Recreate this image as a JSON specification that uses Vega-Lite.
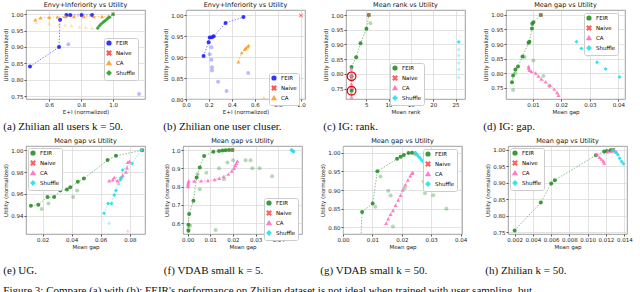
{
"$schema":"https://vega.github.io/schema/vega-lite/v6.json",
"padding":{"left":3,"top":1,"right":0,"bottom":0},
"config":{
 "title":{"font":"DejaVu Sans","fontSize":6.5,"fontWeight":"normal","offset":1.5,"color":"#111"},
 "axis":{"labelFontSize":5.5,"titleFontSize":5.5,"titleFontWeight":"normal","labelFont":"DejaVu Sans","titleFont":"DejaVu Sans","tickSize":2,"labelPadding":1,"titlePadding":2,"gridColor":"#d0d0d0","gridWidth":0.6,"domain":false,"tickColor":"#555","labelColor":"#222","titleColor":"#222","labelOverlap":false,"labelFlush":false},
 "view":{"stroke":"#888","strokeWidth":0.8},
 "legend":{"labelFontSize":5.5,"labelFont":"DejaVu Sans","symbolSize":14,"padding":2,"rowPadding":0,"strokeColor":"#ccc","fillColor":"white","cornerRadius":2,"symbolOpacity":0.9,"labelLimit":60,"orient":"none"}
},
"spacing":4,
"resolve":{"scale":{"color":"independent","shape":"independent","opacity":"independent","x":"independent","y":"independent"},"legend":{"color":"independent","shape":"independent"},"axis":{"x":"independent","y":"independent"}},
"title":{"text":"Figure 3: Compare (a) with (b): FEIR's performance on Zhilian dataset is not ideal when trained with user sampling, but","orient":"bottom","anchor":"start","font":"Liberation Serif","fontSize":11,"fontWeight":"normal","offset":9},
"vconcat":[
{"hconcat":[
 {"vconcat":[{
  "width":119,"height":89,"title":"Envy+Inferiority vs Utility",
  "data":{"values":[
   {"s":"FEIR","f":"main","x":0.48,"y":0.84},{"s":"FEIR","f":"main","x":0.662,"y":0.9},{"s":"FEIR","f":"main","x":0.668,"y":0.983},{"s":"FEIR","f":"main","x":0.708,"y":0.998},{"s":"FEIR","f":"main","x":0.732,"y":0.998},{"s":"FEIR","f":"main","x":0.803,"y":0.998},{"s":"FEIR","f":"main","x":0.869,"y":0.998},
   {"s":"FEIR","f":"other","x":0.72,"y":0.908},{"s":"FEIR","f":"other","x":1.163,"y":0.756},
   {"s":"Naive","f":"main","x":1.0,"y":1.0},
   {"s":"CA","f":"main","x":0.513,"y":0.983},{"s":"CA","f":"main","x":0.546,"y":0.989},{"s":"CA","f":"main","x":0.6,"y":0.991},{"s":"CA","f":"main","x":0.652,"y":0.992},{"s":"CA","f":"main","x":0.703,"y":0.993},{"s":"CA","f":"main","x":0.755,"y":0.993},{"s":"CA","f":"main","x":0.817,"y":0.993},{"s":"CA","f":"main","x":0.879,"y":0.993},{"s":"CA","f":"main","x":0.931,"y":0.993},{"s":"CA","f":"main","x":0.97,"y":0.994},
   {"s":"CA","f":"other","x":0.52,"y":0.975},{"s":"CA","f":"other","x":0.6,"y":0.972},{"s":"CA","f":"other","x":0.66,"y":0.968},{"s":"CA","f":"other","x":0.7,"y":0.967},{"s":"CA","f":"other","x":0.74,"y":0.965},{"s":"CA","f":"other","x":0.79,"y":0.962},{"s":"CA","f":"other","x":0.83,"y":0.96},{"s":"CA","f":"other","x":0.87,"y":0.958},{"s":"CA","f":"other","x":0.9,"y":0.957},
   {"s":"Shuffle","f":"main","x":0.904,"y":0.958},{"s":"Shuffle","f":"main","x":0.915,"y":0.965},{"s":"Shuffle","f":"main","x":0.927,"y":0.971},{"s":"Shuffle","f":"main","x":0.94,"y":0.976},{"s":"Shuffle","f":"main","x":0.952,"y":0.981},{"s":"Shuffle","f":"main","x":0.965,"y":0.986},{"s":"Shuffle","f":"main","x":0.979,"y":0.991},{"s":"Shuffle","f":"main","x":1.0,"y":1.0}
  ]},
  "encoding":{
   "x":{"field":"x","type":"quantitative","scale":{"domain":[0.455,1.2],"nice":false,"zero":false},"axis":{"title":"E+I (normalized)","values":[0.6,0.8,1.0],"format":".1f"}},
   "y":{"field":"y","type":"quantitative","scale":{"domain":[0.741,1.013],"nice":false,"zero":false},"axis":{"title":"Utility (normalized)","values":[0.75,0.8,0.85,0.9,0.95,1.0],"format":".2f"}},
   "color":{"field":"s","type":"nominal","title":null,"scale":{"domain":["FEIR","Naive","CA","Shuffle"],"range":["#1f1fff","#ff4040","#ffa020","#22a02a"]},"legend":{"orient":"none","legendX":78,"legendY":28}}
  },
  "layer":[
   {"transform":[{"filter":"datum.f=='main' && datum.s!='Naive'"}],
    "mark":{"type":"line","strokeDash":[1.5,1.5],"strokeWidth":0.8,"opacity":0.7,"clip":true},
    "encoding":{"detail":{"field":"s"},"order":{"field":"y","type":"quantitative"}}},
   {"mark":{"type":"point","filled":true,"size":16,"clip":true},
    "encoding":{
     "shape":{"field":"s","type":"nominal","title":null,"scale":{"domain":["FEIR","Naive","CA","Shuffle"],"range":["circle","M-1,-0.75L-0.75,-1L0,-0.25L0.75,-1L1,-0.75L0.25,0L1,0.75L0.75,1L0,0.25L-0.75,1L-1,0.75L-0.25,0Z","triangle-up","diamond"]}},
     "opacity":{"field":"f","type":"nominal","scale":{"domain":["main","other"],"range":[0.9,0.3]},"legend":null}}}
  ]}],
  "title":{"text":"(a) Zhilian all users k = 50.","orient":"bottom","font":"Liberation Serif","fontSize":11,"fontWeight":"normal","offset":6}},
 {"vconcat":[{
  "width":119,"height":89,"title":"Envy+Inferiority vs Utility",
  "data":{"values":[
   {"s":"FEIR","f":"main","x":0.153,"y":0.903},{"s":"FEIR","f":"main","x":0.197,"y":0.936},{"s":"FEIR","f":"main","x":0.206,"y":0.947},{"s":"FEIR","f":"main","x":0.226,"y":0.948},{"s":"FEIR","f":"main","x":0.241,"y":0.95},{"s":"FEIR","f":"main","x":0.344,"y":0.982},{"s":"FEIR","f":"main","x":0.5,"y":0.996},
   {"s":"FEIR","f":"other","x":0.206,"y":0.907},{"s":"FEIR","f":"other","x":0.221,"y":0.924},{"s":"FEIR","f":"other","x":0.221,"y":0.894},{"s":"FEIR","f":"other","x":0.226,"y":0.876},{"s":"FEIR","f":"other","x":0.226,"y":0.868},{"s":"FEIR","f":"other","x":0.279,"y":0.841},{"s":"FEIR","f":"other","x":0.353,"y":0.819},{"s":"FEIR","f":"other","x":0.541,"y":0.862},
   {"s":"Naive","f":"main","x":1.0,"y":1.0},
   {"s":"CA","f":"main","x":0.456,"y":0.889},{"s":"CA","f":"main","x":0.485,"y":0.911},{"s":"CA","f":"main","x":0.512,"y":0.919},{"s":"CA","f":"main","x":0.52,"y":0.922},{"s":"CA","f":"main","x":0.535,"y":0.925},{"s":"CA","f":"main","x":0.544,"y":0.928},
   {"s":"CA","f":"other","x":0.676,"y":0.804}
  ]},
  "encoding":{
   "x":{"field":"x","type":"quantitative","scale":{"domain":[0.0,1.035],"nice":false,"zero":false},"axis":{"title":"E+I (normalized)","values":[0,0.2,0.4,0.6,0.8,1.0],"format":".1f"}},
   "y":{"field":"y","type":"quantitative","scale":{"domain":[0.8,1.013],"nice":false,"zero":false},"axis":{"title":"Utility (normalized)","values":[0.8,0.85,0.9,0.95,1.0],"format":".2f"}},
   "color":{"field":"s","type":"nominal","title":null,"scale":{"domain":["FEIR","Naive","CA"],"range":["#1f1fff","#ff4040","#ffa020"]},"legend":{"orient":"none","legendX":83,"legendY":63}}
  },
  "layer":[
   {"transform":[{"filter":"datum.f=='main' && datum.s!='Naive'"}],
    "mark":{"type":"line","strokeDash":[1.5,1.5],"strokeWidth":0.8,"opacity":0.7,"clip":true},
    "encoding":{"detail":{"field":"s"},"order":{"field":"y","type":"quantitative"}}},
   {"mark":{"type":"point","filled":true,"size":16,"clip":true},
    "encoding":{
     "shape":{"field":"s","type":"nominal","title":null,"scale":{"domain":["FEIR","Naive","CA"],"range":["circle","M-1,-0.75L-0.75,-1L0,-0.25L0.75,-1L1,-0.75L0.25,0L1,0.75L0.75,1L0,0.25L-0.75,1L-1,0.75L-0.25,0Z","triangle-up"]}},
     "opacity":{"field":"f","type":"nominal","scale":{"domain":["main","other"],"range":[0.9,0.3]},"legend":null}}}
  ]}],
  "title":{"text":"(b) Zhilian one user cluser.","orient":"bottom","font":"Liberation Serif","fontSize":11,"fontWeight":"normal","offset":6}},
 {"vconcat":[{
  "width":119,"height":89,"title":"Mean rank vs Utility",
  "data":{"values":[
   {"s":"FEIR","f":"main","x":1.74,"y":0.743},{"s":"FEIR","f":"main","x":1.74,"y":0.792},{"s":"FEIR","f":"main","x":1.74,"y":0.824},{"s":"FEIR","f":"main","x":2.78,"y":0.857},{"s":"FEIR","f":"main","x":3.74,"y":0.904},{"s":"FEIR","f":"main","x":5.07,"y":0.953},{"s":"FEIR","f":"main","x":5.6,"y":1.0},
   {"s":"FEIR","f":"other","x":5.96,"y":0.972},{"s":"FEIR","f":"other","x":1.9,"y":0.75},{"s":"FEIR","f":"other","x":1.8,"y":0.78},
   {"s":"Naive","f":"main","x":5.6,"y":1.0},
   {"s":"CA","f":"main","x":1.7,"y":0.818},{"s":"CA","f":"main","x":1.7,"y":0.807},{"s":"CA","f":"main","x":1.7,"y":0.795},{"s":"CA","f":"main","x":1.7,"y":0.784},{"s":"CA","f":"main","x":1.7,"y":0.767},{"s":"CA","f":"main","x":1.7,"y":0.756},{"s":"CA","f":"main","x":1.72,"y":0.734},{"s":"CA","f":"main","x":1.75,"y":0.722},
   {"s":"Shuffle","f":"main","x":25.7,"y":0.908},{"s":"Shuffle","f":"other","x":25.7,"y":0.883},{"s":"Shuffle","f":"other","x":25.7,"y":0.863},{"s":"Shuffle","f":"other","x":25.7,"y":0.837},{"s":"Shuffle","f":"other","x":25.7,"y":0.815},{"s":"Shuffle","f":"other","x":25.7,"y":0.788}
  ]},
  "encoding":{
   "x":{"field":"x","type":"quantitative","scale":{"domain":[0.5,27.1],"nice":false,"zero":false},"axis":{"title":"Mean rank","values":[5,10,15,20,25]}},
   "y":{"field":"y","type":"quantitative","scale":{"domain":[0.715,1.017],"nice":false,"zero":false},"axis":{"title":"Utility (normalized)","values":[0.75,0.8,0.85,0.9,0.95,1.0],"format":".2f"}}
  },
  "layer":[
   {"transform":[{"filter":"datum.f=='main' && datum.s=='FEIR'"}],
    "mark":{"type":"line","strokeDash":[1.5,1.5],"strokeWidth":0.8,"opacity":0.7,"clip":true},
    "encoding":{"color":{"field":"s","type":"nominal"},"detail":{"field":"s"},"order":{"field":"y","type":"quantitative"}}},
   {"mark":{"type":"point","filled":true,"size":16,"clip":true},
    "encoding":{
     "color":{"field":"s","type":"nominal","title":null,"scale":{"domain":["FEIR","Naive","CA","Shuffle"],"range":["#2a8f2a","#ff5050","#ff70c0","#20e0f0"]},"legend":{"orient":"none","legendX":44,"legendY":53}},
     "shape":{"field":"s","type":"nominal","title":null,"scale":{"domain":["FEIR","Naive","CA","Shuffle"],"range":["circle","M-1,-0.75L-0.75,-1L0,-0.25L0.75,-1L1,-0.75L0.25,0L1,0.75L0.75,1L0,0.25L-0.75,1L-1,0.75L-0.25,0Z","triangle-up","diamond"]}},
     "opacity":{"field":"f","type":"nominal","scale":{"domain":["main","other"],"range":[0.9,0.35]},"legend":null}}},
   {"data":{"values":[{"x":1.74,"y":0.792},{"x":1.74,"y":0.743}]},
    "mark":{"type":"point","shape":"circle","filled":false,"size":75,"color":"#ee0000","strokeWidth":1.2,"opacity":1}}
  ]}],
  "title":{"text":"(c) IG: rank.","orient":"bottom","font":"Liberation Serif","fontSize":11,"fontWeight":"normal","offset":6}},
 {"vconcat":[{
  "width":119,"height":89,"title":"Mean gap vs Utility",
  "data":{"values":[
   {"s":"FEIR","f":"main","x":0.0027,"y":0.769},{"s":"FEIR","f":"main","x":0.0031,"y":0.792},{"s":"FEIR","f":"main","x":0.0039,"y":0.812},{"s":"FEIR","f":"main","x":0.0048,"y":0.823},{"s":"FEIR","f":"main","x":0.0064,"y":0.857},{"s":"FEIR","f":"main","x":0.0085,"y":0.904},{"s":"FEIR","f":"main","x":0.0088,"y":0.908},{"s":"FEIR","f":"main","x":0.0097,"y":0.953},{"s":"FEIR","f":"main","x":0.0098,"y":0.97},{"s":"FEIR","f":"main","x":0.0102,"y":0.975},{"s":"FEIR","f":"main","x":0.0128,"y":1.0},
   {"s":"FEIR","f":"other","x":0.0031,"y":0.742},{"s":"FEIR","f":"other","x":0.0039,"y":0.8},{"s":"FEIR","f":"other","x":0.0071,"y":0.855},{"s":"FEIR","f":"other","x":0.0102,"y":0.843},{"s":"FEIR","f":"other","x":0.0137,"y":0.79},{"s":"FEIR","f":"other","x":0.0158,"y":0.756},
   {"s":"Naive","f":"main","x":0.0128,"y":1.0},
   {"s":"CA","f":"main","x":0.0085,"y":0.823},{"s":"CA","f":"main","x":0.0086,"y":0.817},{"s":"CA","f":"main","x":0.0088,"y":0.81},{"s":"CA","f":"main","x":0.0095,"y":0.806},{"s":"CA","f":"main","x":0.011,"y":0.8},{"s":"CA","f":"main","x":0.012,"y":0.79},{"s":"CA","f":"main","x":0.013,"y":0.78},{"s":"CA","f":"main","x":0.0145,"y":0.77},{"s":"CA","f":"main","x":0.016,"y":0.758},{"s":"CA","f":"main","x":0.0175,"y":0.745},{"s":"CA","f":"main","x":0.0185,"y":0.733},{"s":"CA","f":"main","x":0.019,"y":0.724},
   {"s":"Shuffle","f":"main","x":0.0253,"y":0.908},{"s":"Shuffle","f":"main","x":0.027,"y":0.885},{"s":"Shuffle","f":"main","x":0.0293,"y":0.863},{"s":"Shuffle","f":"main","x":0.0325,"y":0.837},{"s":"Shuffle","f":"main","x":0.0355,"y":0.814},{"s":"Shuffle","f":"main","x":0.0404,"y":0.787}
  ]},
  "encoding":{
   "x":{"field":"x","type":"quantitative","scale":{"domain":[0.0006,0.0423],"nice":false,"zero":false},"axis":{"title":"Mean gap","values":[0.01,0.02,0.03,0.04],"format":".2f"}},
   "y":{"field":"y","type":"quantitative","scale":{"domain":[0.711,1.017],"nice":false,"zero":false},"axis":{"title":"Utility (normalized)","values":[0.75,0.8,0.85,0.9,0.95,1.0],"format":".2f"}},
   "color":{"field":"s","type":"nominal","title":null,"scale":{"domain":["FEIR","Naive","CA","Shuffle"],"range":["#2a8f2a","#ff5050","#ff70c0","#20e0f0"]},"legend":{"orient":"none","legendX":78,"legendY":3}}
  },
  "layer":[
   {"transform":[{"filter":"datum.f=='main' && (datum.s=='FEIR' || datum.s=='CA')"}],
    "mark":{"type":"line","strokeDash":[1.5,1.5],"strokeWidth":0.8,"opacity":0.7,"clip":true},
    "encoding":{"detail":{"field":"s"},"order":{"field":"y","type":"quantitative"}}},
   {"mark":{"type":"point","filled":true,"size":16,"clip":true},
    "encoding":{
     "shape":{"field":"s","type":"nominal","title":null,"scale":{"domain":["FEIR","Naive","CA","Shuffle"],"range":["circle","M-1,-0.75L-0.75,-1L0,-0.25L0.75,-1L1,-0.75L0.25,0L1,0.75L0.75,1L0,0.25L-0.75,1L-1,0.75L-0.25,0Z","triangle-up","diamond"]}},
     "opacity":{"field":"f","type":"nominal","scale":{"domain":["main","other"],"range":[0.9,0.35]},"legend":null}}}
  ]}],
  "title":{"text":"(d) IG: gap.","orient":"bottom","font":"Liberation Serif","fontSize":11,"fontWeight":"normal","offset":6}}
],"spacing":17,
"resolve":{"scale":{"color":"independent","shape":"independent","opacity":"independent","x":"independent","y":"independent"},"legend":{"color":"independent","shape":"independent"},"axis":{"x":"independent","y":"independent"}}},
{"hconcat":[
 {"vconcat":[{
  "width":119,"height":88,"title":"Mean gap vs Utility",
  "data":{"values":[
   {"s":"FEIR","f":"main","x":0.0119,"y":0.949},{"s":"FEIR","f":"main","x":0.017,"y":0.95},{"s":"FEIR","f":"main","x":0.0233,"y":0.957},{"s":"FEIR","f":"main","x":0.0279,"y":0.957},{"s":"FEIR","f":"main","x":0.0321,"y":0.963},{"s":"FEIR","f":"main","x":0.0367,"y":0.964},{"s":"FEIR","f":"main","x":0.039,"y":0.966},{"s":"FEIR","f":"main","x":0.0442,"y":0.971},{"s":"FEIR","f":"main","x":0.0484,"y":0.974},{"s":"FEIR","f":"main","x":0.0647,"y":0.991},{"s":"FEIR","f":"main","x":0.0705,"y":0.995},{"s":"FEIR","f":"main","x":0.0884,"y":1.0},
   {"s":"FEIR","f":"other","x":0.0193,"y":0.946},{"s":"FEIR","f":"other","x":0.024,"y":0.951},{"s":"FEIR","f":"other","x":0.041,"y":0.957},{"s":"FEIR","f":"other","x":0.0437,"y":0.963},
   {"s":"Naive","f":"main","x":0.0884,"y":1.0},
   {"s":"CA","f":"main","x":0.0658,"y":0.972},{"s":"CA","f":"main","x":0.0681,"y":0.973},{"s":"CA","f":"main","x":0.0693,"y":0.975},{"s":"CA","f":"main","x":0.0716,"y":0.972},{"s":"CA","f":"main","x":0.074,"y":0.975},{"s":"CA","f":"main","x":0.0751,"y":0.977},{"s":"CA","f":"main","x":0.0774,"y":0.98},{"s":"CA","f":"main","x":0.0781,"y":0.984},{"s":"CA","f":"main","x":0.0786,"y":0.989},{"s":"CA","f":"main","x":0.0798,"y":0.99},
   {"s":"CA","f":"other","x":0.0786,"y":0.926},{"s":"CA","f":"other","x":0.072,"y":0.97},
   {"s":"Shuffle","f":"main","x":0.0623,"y":0.942},{"s":"Shuffle","f":"main","x":0.0651,"y":0.951},{"s":"Shuffle","f":"main","x":0.0674,"y":0.951},{"s":"Shuffle","f":"main","x":0.0693,"y":0.959},{"s":"Shuffle","f":"main","x":0.0705,"y":0.963},{"s":"Shuffle","f":"main","x":0.0735,"y":0.973},{"s":"Shuffle","f":"main","x":0.0744,"y":0.975},{"s":"Shuffle","f":"main","x":0.0751,"y":0.982},{"s":"Shuffle","f":"main","x":0.0816,"y":0.988},{"s":"Shuffle","f":"main","x":0.0879,"y":1.0},
   {"s":"Shuffle","f":"other","x":0.0658,"y":0.933},{"s":"Shuffle","f":"other","x":0.0728,"y":0.969}
  ]},
  "encoding":{
   "x":{"field":"x","type":"quantitative","scale":{"domain":[0.0085,0.0905],"nice":false,"zero":false},"axis":{"title":"Mean gap","values":[0.02,0.04,0.06,0.08],"format":".2f"}},
   "y":{"field":"y","type":"quantitative","scale":{"domain":[0.923,1.004],"nice":false,"zero":false},"axis":{"title":"Utility (normalized)","values":[0.94,0.96,0.98,1.0],"format":".2f"}},
   "color":{"field":"s","type":"nominal","title":null,"scale":{"domain":["FEIR","Naive","CA","Shuffle"],"range":["#2a8f2a","#ff5050","#ff70c0","#20e0f0"]},"legend":{"orient":"none","legendX":2,"legendY":2}}
  },
  "layer":[
   {"transform":[{"filter":"datum.f=='main' && datum.s!='Naive'"}],
    "mark":{"type":"line","strokeDash":[1.5,1.5],"strokeWidth":0.8,"opacity":0.7,"clip":true},
    "encoding":{"detail":{"field":"s"},"order":{"field":"y","type":"quantitative"}}},
   {"mark":{"type":"point","filled":true,"size":16,"clip":true},
    "encoding":{
     "shape":{"field":"s","type":"nominal","title":null,"scale":{"domain":["FEIR","Naive","CA","Shuffle"],"range":["circle","M-1,-0.75L-0.75,-1L0,-0.25L0.75,-1L1,-0.75L0.25,0L1,0.75L0.75,1L0,0.25L-0.75,1L-1,0.75L-0.25,0Z","triangle-up","diamond"]}},
     "opacity":{"field":"f","type":"nominal","scale":{"domain":["main","other"],"range":[0.9,0.35]},"legend":null}}}
  ]}],
  "title":{"text":"(e) UG.","orient":"bottom","font":"Liberation Serif","fontSize":11,"fontWeight":"normal","offset":15}},
 {"vconcat":[{
  "width":119,"height":88,"title":"Mean gap vs Utility",
  "data":{"values":[
   {"s":"FEIR","f":"main","x":0.0004,"y":0.558},{"s":"FEIR","f":"main","x":0.0004,"y":0.591},{"s":"FEIR","f":"main","x":0.0007,"y":0.649},{"s":"FEIR","f":"main","x":0.0026,"y":0.722},{"s":"FEIR","f":"main","x":0.004,"y":0.849},{"s":"FEIR","f":"main","x":0.0054,"y":0.904},{"s":"FEIR","f":"main","x":0.0073,"y":0.967},{"s":"FEIR","f":"main","x":0.0114,"y":0.991},{"s":"FEIR","f":"main","x":0.0139,"y":0.995},{"s":"FEIR","f":"main","x":0.0154,"y":0.998},{"s":"FEIR","f":"main","x":0.0168,"y":0.999},{"s":"FEIR","f":"main","x":0.0183,"y":1.0},{"s":"FEIR","f":"main","x":0.0198,"y":1.0},
   {"s":"FEIR","f":"other","x":0.0004,"y":0.567},{"s":"FEIR","f":"other","x":0.0012,"y":0.585},{"s":"FEIR","f":"other","x":0.0054,"y":0.785},{"s":"FEIR","f":"other","x":0.0044,"y":0.867},{"s":"FEIR","f":"other","x":0.0083,"y":0.876},{"s":"FEIR","f":"other","x":0.0124,"y":0.562},{"s":"FEIR","f":"other","x":0.0139,"y":0.9},{"s":"FEIR","f":"other","x":0.0176,"y":0.931},{"s":"FEIR","f":"other","x":0.0201,"y":0.944},{"s":"FEIR","f":"other","x":0.0256,"y":0.944},{"s":"FEIR","f":"other","x":0.0278,"y":0.944},{"s":"FEIR","f":"other","x":0.0286,"y":0.9},{"s":"FEIR","f":"other","x":0.0318,"y":0.9},{"s":"FEIR","f":"other","x":0.0373,"y":0.856},{"s":"FEIR","f":"other","x":0.0161,"y":0.84},
   {"s":"Naive","f":"main","x":0.0198,"y":1.0},
   {"s":"CA","f":"main","x":0.0002,"y":0.8},{"s":"CA","f":"main","x":0.0002,"y":0.81},{"s":"CA","f":"main","x":0.0003,"y":0.82},{"s":"CA","f":"main","x":0.0005,"y":0.83},{"s":"CA","f":"main","x":0.003,"y":0.83},{"s":"CA","f":"main","x":0.006,"y":0.831},{"s":"CA","f":"main","x":0.009,"y":0.833},{"s":"CA","f":"main","x":0.012,"y":0.838},{"s":"CA","f":"main","x":0.014,"y":0.845},{"s":"CA","f":"main","x":0.016,"y":0.855},{"s":"CA","f":"main","x":0.018,"y":0.868},{"s":"CA","f":"main","x":0.0195,"y":0.885},{"s":"CA","f":"main","x":0.0205,"y":0.9},{"s":"CA","f":"main","x":0.021,"y":0.915},{"s":"CA","f":"main","x":0.0215,"y":0.928},{"s":"CA","f":"main","x":0.022,"y":0.94},
   {"s":"Shuffle","f":"main","x":0.0458,"y":1.0},{"s":"Shuffle","f":"main","x":0.0462,"y":0.997},{"s":"Shuffle","f":"main","x":0.0466,"y":0.993},{"s":"Shuffle","f":"main","x":0.0468,"y":0.99}
  ]},
  "encoding":{
   "x":{"field":"x","type":"quantitative","scale":{"domain":[-0.002,0.0505],"nice":false,"zero":false},"axis":{"title":"Mean gap","values":[0,0.01,0.02,0.03,0.04],"format":".2f"}},
   "y":{"field":"y","type":"quantitative","scale":{"domain":[0.54,1.022],"nice":false,"zero":false},"axis":{"title":"Utility (normalized)","values":[0.6,0.7,0.8,0.9,1.0],"format":".1f"}},
   "color":{"field":"s","type":"nominal","title":null,"scale":{"domain":["FEIR","Naive","CA","Shuffle"],"range":["#2a8f2a","#ff5050","#ff70c0","#20e0f0"]},"legend":{"orient":"none","legendX":81,"legendY":52}}
  },
  "layer":[
   {"transform":[{"filter":"datum.f=='main' && datum.s!='Naive'"}],
    "mark":{"type":"line","strokeDash":[1.5,1.5],"strokeWidth":0.8,"opacity":0.7,"clip":true},
    "encoding":{"detail":{"field":"s"},"order":{"field":"y","type":"quantitative"}}},
   {"mark":{"type":"point","filled":true,"size":16,"clip":true},
    "encoding":{
     "shape":{"field":"s","type":"nominal","title":null,"scale":{"domain":["FEIR","Naive","CA","Shuffle"],"range":["circle","M-1,-0.75L-0.75,-1L0,-0.25L0.75,-1L1,-0.75L0.25,0L1,0.75L0.75,1L0,0.25L-0.75,1L-1,0.75L-0.25,0Z","triangle-up","diamond"]}},
     "opacity":{"field":"f","type":"nominal","scale":{"domain":["main","other"],"range":[0.9,0.35]},"legend":null}}}
  ]}],
  "title":{"text":"(f) VDAB small k = 5.","orient":"bottom","font":"Liberation Serif","fontSize":11,"fontWeight":"normal","offset":15}},
 {"vconcat":[{
  "width":119,"height":88,"title":"Mean gap vs Utility",
  "data":{"values":[
   {"s":"FEIR","f":"main","x":0.006,"y":0.76},{"s":"FEIR","f":"main","x":0.0065,"y":0.841},{"s":"FEIR","f":"main","x":0.0101,"y":0.864},{"s":"FEIR","f":"main","x":0.0117,"y":0.95},{"s":"FEIR","f":"main","x":0.0184,"y":0.984},{"s":"FEIR","f":"main","x":0.0196,"y":0.989},{"s":"FEIR","f":"main","x":0.0207,"y":0.994},{"s":"FEIR","f":"main","x":0.0223,"y":0.999},{"s":"FEIR","f":"main","x":0.0235,"y":1.0},
   {"s":"FEIR","f":"other","x":0.0128,"y":0.936},{"s":"FEIR","f":"other","x":0.011,"y":0.855},{"s":"FEIR","f":"other","x":0.0154,"y":0.898},{"s":"FEIR","f":"other","x":0.0162,"y":0.885},{"s":"FEIR","f":"other","x":0.017,"y":0.802},{"s":"FEIR","f":"other","x":0.021,"y":0.905},{"s":"FEIR","f":"other","x":0.0246,"y":0.995},{"s":"FEIR","f":"other","x":0.0274,"y":0.923},{"s":"FEIR","f":"other","x":0.0279,"y":0.891},{"s":"FEIR","f":"other","x":0.0307,"y":0.886},{"s":"FEIR","f":"other","x":0.0352,"y":0.85},
   {"s":"Naive","f":"main","x":0.0243,"y":1.0},
   {"s":"CA","f":"main","x":0.0147,"y":0.811},{"s":"CA","f":"main","x":0.0154,"y":0.823},{"s":"CA","f":"main","x":0.0162,"y":0.835},{"s":"CA","f":"main","x":0.017,"y":0.845},{"s":"CA","f":"main","x":0.0179,"y":0.859},{"s":"CA","f":"main","x":0.0188,"y":0.873},{"s":"CA","f":"main","x":0.0196,"y":0.886},{"s":"CA","f":"main","x":0.0203,"y":0.9},{"s":"CA","f":"main","x":0.0212,"y":0.914},{"s":"CA","f":"main","x":0.0221,"y":0.927},{"s":"CA","f":"main","x":0.0229,"y":0.938},{"s":"CA","f":"main","x":0.0235,"y":0.945},{"s":"CA","f":"main","x":0.0237,"y":0.947},
   {"s":"Shuffle","f":"main","x":0.0246,"y":1.0},{"s":"Shuffle","f":"main","x":0.0252,"y":0.995},{"s":"Shuffle","f":"main","x":0.0257,"y":0.99},{"s":"Shuffle","f":"main","x":0.0263,"y":0.985},{"s":"Shuffle","f":"main","x":0.0268,"y":0.98},{"s":"Shuffle","f":"main","x":0.0274,"y":0.975},{"s":"Shuffle","f":"main","x":0.0279,"y":0.971}
  ]},
  "encoding":{
   "x":{"field":"x","type":"quantitative","scale":{"domain":[0.0,0.0405],"nice":false,"zero":false},"axis":{"title":"Mean gap","values":[0,0.01,0.02,0.03,0.04],"format":".2f"}},
   "y":{"field":"y","type":"quantitative","scale":{"domain":[0.782,1.018],"nice":false,"zero":false},"axis":{"title":"Utility (normalized)","values":[0.8,0.85,0.9,0.95,1.0],"format":".2f"}},
   "color":{"field":"s","type":"nominal","title":null,"scale":{"domain":["FEIR","Naive","CA","Shuffle"],"range":["#2a8f2a","#ff5050","#ff70c0","#20e0f0"]},"legend":{"orient":"none","legendX":80,"legendY":3}}
  },
  "layer":[
   {"transform":[{"filter":"datum.f=='main' && datum.s!='Naive'"}],
    "mark":{"type":"line","strokeDash":[1.5,1.5],"strokeWidth":0.8,"opacity":0.7,"clip":true},
    "encoding":{"detail":{"field":"s"},"order":{"field":"y","type":"quantitative"}}},
   {"mark":{"type":"point","filled":true,"size":16,"clip":true},
    "encoding":{
     "shape":{"field":"s","type":"nominal","title":null,"scale":{"domain":["FEIR","Naive","CA","Shuffle"],"range":["circle","M-1,-0.75L-0.75,-1L0,-0.25L0.75,-1L1,-0.75L0.25,0L1,0.75L0.75,1L0,0.25L-0.75,1L-1,0.75L-0.25,0Z","triangle-up","diamond"]}},
     "opacity":{"field":"f","type":"nominal","scale":{"domain":["main","other"],"range":[0.9,0.35]},"legend":null}}}
  ]}],
  "title":{"text":"(g) VDAB small k = 50.","orient":"bottom","font":"Liberation Serif","fontSize":11,"fontWeight":"normal","offset":15}},
 {"vconcat":[{
  "width":119,"height":88,"title":"Mean gap vs Utility",
  "data":{"values":[
   {"s":"FEIR","f":"main","x":0.002,"y":0.755},{"s":"FEIR","f":"main","x":0.00486,"y":0.84},{"s":"FEIR","f":"main","x":0.006,"y":0.898},{"s":"FEIR","f":"main","x":0.0064,"y":0.908},{"s":"FEIR","f":"main","x":0.0109,"y":0.984},{"s":"FEIR","f":"main","x":0.0118,"y":0.995},{"s":"FEIR","f":"main","x":0.0121,"y":0.997},{"s":"FEIR","f":"main","x":0.0125,"y":0.999},{"s":"FEIR","f":"main","x":0.0128,"y":1.0},
   {"s":"Naive","f":"main","x":0.0128,"y":1.0},
   {"s":"CA","f":"main","x":0.011,"y":0.986},{"s":"CA","f":"main","x":0.0113,"y":0.978},{"s":"CA","f":"main","x":0.0115,"y":0.972},{"s":"CA","f":"main","x":0.0117,"y":0.966},{"s":"CA","f":"main","x":0.0118,"y":0.96},{"s":"CA","f":"main","x":0.0122,"y":0.995},{"s":"CA","f":"main","x":0.0126,"y":0.997},{"s":"CA","f":"main","x":0.0129,"y":0.998},{"s":"CA","f":"main","x":0.0131,"y":0.994},
   {"s":"Shuffle","f":"main","x":0.0128,"y":1.0},{"s":"Shuffle","f":"main","x":0.0131,"y":0.993},{"s":"Shuffle","f":"main","x":0.0133,"y":0.985},{"s":"Shuffle","f":"main","x":0.0135,"y":0.975},{"s":"Shuffle","f":"main","x":0.0137,"y":0.965},{"s":"Shuffle","f":"main","x":0.0139,"y":0.958}
  ]},
  "encoding":{
   "x":{"field":"x","type":"quantitative","scale":{"domain":[0.00127,0.0143],"nice":false,"zero":false},"axis":{"title":"Mean gap","values":[0.002,0.004,0.006,0.008,0.01,0.012,0.014],"format":".3f"}},
   "y":{"field":"y","type":"quantitative","scale":{"domain":[0.744,1.012],"nice":false,"zero":false},"axis":{"title":"Utility (normalized)","values":[0.75,0.8,0.85,0.9,0.95,1.0],"format":".2f"}},
   "color":{"field":"s","type":"nominal","title":null,"scale":{"domain":["FEIR","Naive","CA","Shuffle"],"range":["#2a8f2a","#ff5050","#ff70c0","#20e0f0"]},"legend":{"orient":"none","legendX":2,"legendY":2}}
  },
  "layer":[
   {"transform":[{"filter":"datum.f=='main' && datum.s!='Naive'"}],
    "mark":{"type":"line","strokeDash":[1.5,1.5],"strokeWidth":0.8,"opacity":0.7,"clip":true},
    "encoding":{"detail":{"field":"s"},"order":{"field":"y","type":"quantitative"}}},
   {"mark":{"type":"point","filled":true,"size":16,"clip":true},
    "encoding":{
     "shape":{"field":"s","type":"nominal","title":null,"scale":{"domain":["FEIR","Naive","CA","Shuffle"],"range":["circle","M-1,-0.75L-0.75,-1L0,-0.25L0.75,-1L1,-0.75L0.25,0L1,0.75L0.75,1L0,0.25L-0.75,1L-1,0.75L-0.25,0Z","triangle-up","diamond"]}},
     "opacity":{"field":"f","type":"nominal","scale":{"domain":["main","other"],"range":[0.9,0.35]},"legend":null}}}
  ]}],
  "title":{"text":"(h) Zhilian k = 50.","orient":"bottom","font":"Liberation Serif","fontSize":11,"fontWeight":"normal","offset":15}}
],"spacing":17,
"resolve":{"scale":{"color":"independent","shape":"independent","opacity":"independent","x":"independent","y":"independent"},"legend":{"color":"independent","shape":"independent"},"axis":{"x":"independent","y":"independent"}}}
]
}
